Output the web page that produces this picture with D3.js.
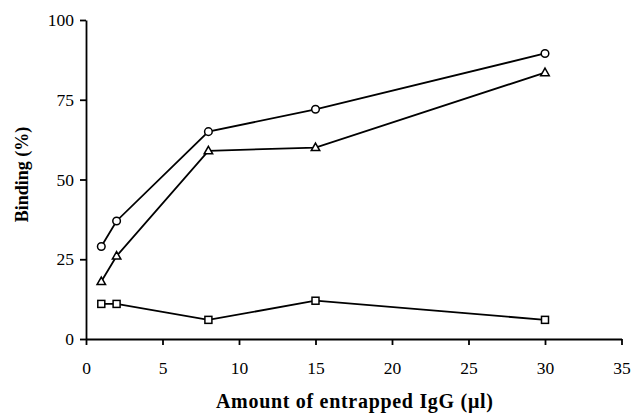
<!DOCTYPE html>
<html>
<head>
<meta charset="utf-8">
<script src="https://cdn.jsdelivr.net/npm/d3@7"></script>
<style>
  html, body { margin: 0; padding: 0; background: #fff; }
  svg { display: block; }
  .axis path, .axis line { stroke: #000; stroke-width: 1.8; }
</style>
</head>
<body>
<svg id="chart" width="632" height="414"></svg>
<script>
const xValues = [1, 2, 8, 15, 30];
const circleSeries = [29, 37, 65, 72, 89.5];
const triangleSeries = [18, 26, 59, 60, 83.5];
const squareSeries = [11, 11, 6, 12, 6];
const xTicks = [0, 5, 10, 15, 20, 25, 30, 35];
const yTicks = [0, 25, 50, 75, 100];
const xTitle = "Amount of entrapped IgG (\u03bcl)";
const yTitle = "Binding (%)";

const SERIF = "'Liberation Serif', 'Times New Roman', serif";
const svg = d3.select("#chart");
const x = d3.scaleLinear().domain([0, 35]).range([86, 621.5]);
const y = d3.scaleLinear().domain([0, 100]).range([339, 20]);

const gx = svg.append("g").attr("class", "axis")
  .attr("transform", `translate(0,${y(0)})`)
  .call(d3.axisBottom(x).tickValues(xTicks).tickSize(6).tickSizeOuter(0).tickPadding(17).tickFormat(d3.format("d")));
gx.attr("font-family", SERIF).attr("font-size", 17.5);
gx.selectAll("text").style("font-family", SERIF).style("font-size", "17.5px").attr("fill", "#000");

const gy = svg.append("g").attr("class", "axis")
  .attr("transform", `translate(${x(0)},0)`)
  .call(d3.axisLeft(y).tickValues(yTicks).tickSize(6).tickSizeOuter(0).tickPadding(6).tickFormat(d3.format("d")));
gy.attr("font-family", SERIF).attr("font-size", 17.5);
gy.selectAll("text").style("font-family", SERIF).style("font-size", "17.5px").attr("fill", "#000");

svg.append("text")
  .attr("x", (x(0) + x(35)) / 2 + 1)
  .attr("y", 408)
  .attr("text-anchor", "middle")
  .style("font-family", SERIF)
  .style("font-weight", "bold")
  .style("font-size", "20px")
  .style("letter-spacing", "0.7px")
  .text(xTitle);

svg.append("text")
  .attr("transform", `translate(28,${(y(0) + y(100)) / 2 - 5}) rotate(-90)`)
  .attr("text-anchor", "middle")
  .style("font-family", SERIF)
  .style("font-weight", "bold")
  .style("font-size", "18px")
  .text(yTitle);

const line = d3.line().x(d => x(d[0])).y(d => y(d[1]));
const series = [
  { vals: circleSeries, shape: "circle" },
  { vals: triangleSeries, shape: "triangle" },
  { vals: squareSeries, shape: "square" }
];

series.forEach(s => {
  const pts = xValues.map((xv, i) => [xv, s.vals[i]]);
  svg.append("path")
    .datum(pts)
    .attr("d", line)
    .attr("fill", "none")
    .attr("stroke", "#000")
    .attr("stroke-width", 1.8);

  const g = svg.append("g");
  pts.forEach(p => {
    const cx = x(p[0]), cy = y(p[1]);
    if (s.shape === "circle") {
      g.append("circle").attr("cx", cx).attr("cy", cy).attr("r", 3.8)
        .attr("fill", "#fff").attr("stroke", "#000").attr("stroke-width", 1.5);
    } else if (s.shape === "square") {
      g.append("rect").attr("x", cx - 3.5).attr("y", cy - 3.5).attr("width", 7).attr("height", 7)
        .attr("fill", "#fff").attr("stroke", "#000").attr("stroke-width", 1.5);
    } else {
      const h = 7.5, w = 8.5;
      g.append("path")
        .attr("d", `M${cx},${cy - h * 0.6}L${cx + w / 2},${cy + h * 0.4}L${cx - w / 2},${cy + h * 0.4}Z`)
        .attr("fill", "#fff").attr("stroke", "#000").attr("stroke-width", 1.5);
    }
  });
});
</script>
</body>
</html>
